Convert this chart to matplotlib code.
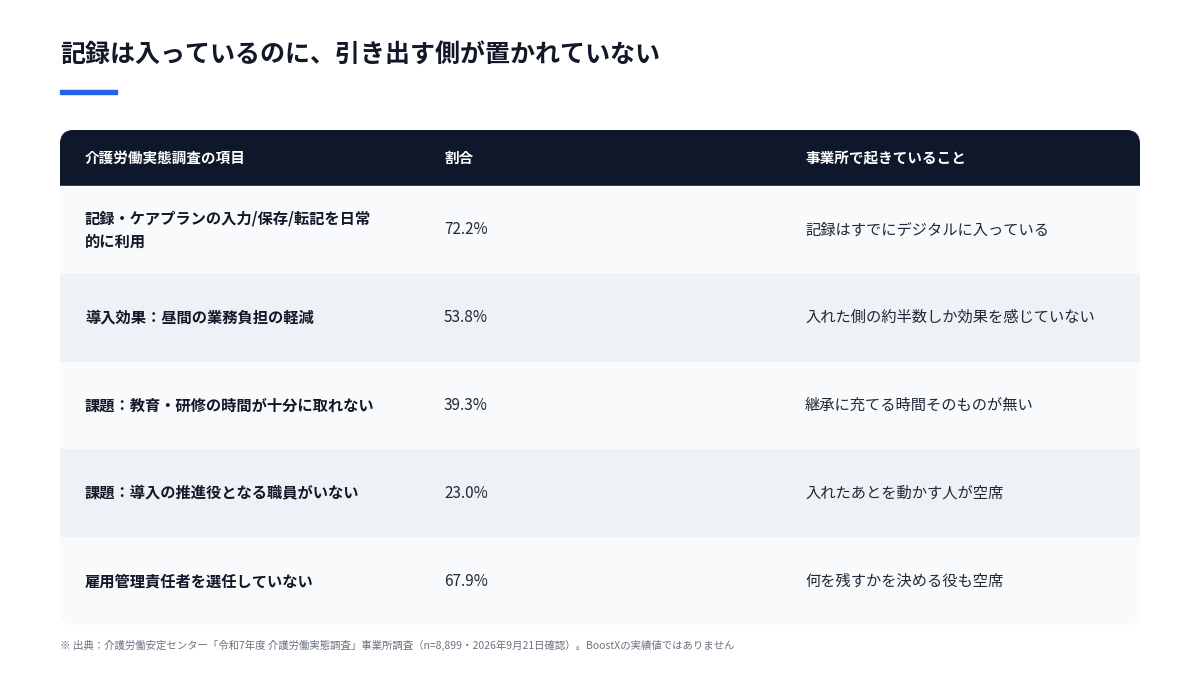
import matplotlib
matplotlib.use('Agg')
import matplotlib.pyplot as plt
from matplotlib.patches import FancyBboxPatch, Rectangle

plt.rcParams['font.family'] = ['Noto Sans CJK JP', 'DejaVu Sans']

title = '記録は入っているのに、引き出す側が置かれていない'
headers = ['介護労働実態調査の項目', '割合', '事業所で起きていること']
items = ['記録・ケアプランの入力/保存/転記を日常\n的に利用',
         '導入効果：昼間の業務負担の軽減',
         '課題：教育・研修の時間が十分に取れない',
         '課題：導入の推進役となる職員がいない',
         '雇用管理責任者を選任していない']
shares = [72.2, 53.8, 39.3, 23.0, 67.9]
notes = ['記録はすでにデジタルに入っている',
         '入れた側の約半数しか効果を感じていない',
         '継承に充てる時間そのものが無い',
         '入れたあとを動かす人が空席',
         '何を残すかを決める役も空席']
source = '※ 出典：介護労働安定センター「令和7年度 介護労働実態調査」事業所調査（n=8,899・2026年9月21日確認）。BoostXの実績値ではありません'

fig = plt.figure(figsize=(12, 6.75), dpi=100)
ax = fig.add_axes([0, 0, 1, 1])
ax.set_xlim(0, 1200)
ax.set_ylim(675, 0)
ax.axis('off')

ax.text(60, 55, title, fontsize=18, fontweight='bold', color='#111827', va='center')
ax.add_patch(Rectangle((60, 90), 57, 4, color='#2563eb'))

left, right, top, bottom = 60, 1140, 130, 625
head_h = 56
row_h = (bottom - top - head_h) / len(items)
clip = FancyBboxPatch((left, top), right - left, bottom - top,
                      boxstyle='round,pad=0,rounding_size=14',
                      facecolor='none', edgecolor='none')
ax.add_patch(clip)

cols = [85, 444, 805]
hdr = Rectangle((left, top), right - left, head_h, color='#0f172a')
ax.add_patch(hdr)
hdr.set_clip_path(clip)
for x, h in zip(cols, headers):
    ax.text(x, top + head_h / 2, h, fontsize=10.5, fontweight='bold', color='white', va='center')

for i, (it, s, n) in enumerate(zip(items, shares, notes)):
    y0 = top + head_h + i * row_h
    r = Rectangle((left, y0), right - left, row_h,
                  color='#f8fafc' if i % 2 == 0 else '#eef1f6')
    ax.add_patch(r)
    r.set_clip_path(clip)
    yc = y0 + row_h / 2
    ax.text(cols[0], yc, it, fontsize=11, fontweight='bold', color='#111827',
            va='center', linespacing=1.6)
    ax.text(cols[1], yc, f'{s:.1f}%', fontsize=11, color='#1f2937', va='center')
    ax.text(cols[2], yc, n, fontsize=11, color='#1f2937', va='center')

ax.text(60, 645, source, fontsize=7.5, color='#6b7280', va='center')

fig.savefig('out.png', dpi=100, facecolor='white')
